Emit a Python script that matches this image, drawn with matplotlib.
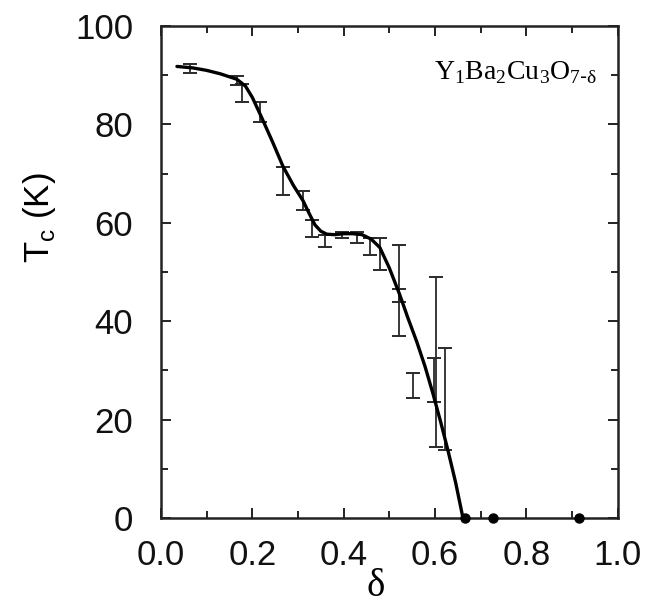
import matplotlib
matplotlib.use("Agg")
import matplotlib.pyplot as plt
from matplotlib.ticker import MultipleLocator
import numpy as np

# smooth guide curve through the Tc(delta) data
curve_delta = [0.035, 0.07, 0.10, 0.13, 0.166, 0.185, 0.20, 0.22, 0.245, 0.267,
               0.29, 0.311, 0.325, 0.337, 0.35, 0.363, 0.38, 0.40, 0.42, 0.44,
               0.46, 0.479, 0.50, 0.523, 0.54, 0.56, 0.578, 0.595, 0.612,
               0.628, 0.645, 0.661]
curve_tc = [91.8, 91.5, 91.0, 90.3, 89.2, 87.8, 85.5, 81.5, 76.3, 71.5,
            67.6, 64.5, 61.8, 59.6, 58.3, 57.7, 57.6, 57.8, 57.8, 57.6,
            56.7, 55.0, 50.8, 45.3, 40.8, 35.8, 30.8, 25.4, 19.6,
            13.8, 7.2, 0.0]

# measured Tc ranges (lower / upper end of each error bar)
bar_delta = [0.063, 0.166, 0.177, 0.217, 0.267, 0.311, 0.330, 0.359, 0.396,
             0.430, 0.457, 0.479, 0.521, 0.521, 0.552, 0.601, 0.598, 0.621]
bar_low = [90.4, 88.0, 84.6, 80.5, 65.7, 62.6, 57.1, 55.1, 57.0,
           56.0, 53.5, 50.4, 37.0, 44.0, 24.4, 14.4, 23.6, 13.8]
bar_high = [92.3, 89.8, 88.2, 84.5, 71.3, 66.5, 60.6, 57.5, 58.2,
            58.1, 57.0, 57.0, 55.5, 46.5, 29.5, 49.0, 32.5, 34.5]

# non-superconducting samples
zero_delta = [0.665, 0.727, 0.915]
zero_tc = [0, 0, 0]

fig = plt.figure(figsize=(6.49, 6.07), dpi=100)
ax = fig.add_axes([0.248, 0.1466, 0.704, 0.8104])

low = np.array(bar_low)
high = np.array(bar_high)
mid = (low + high) / 2
ax.errorbar(bar_delta, mid, yerr=[mid - low, high - mid], fmt="none",
            ecolor="#2a2a2a", elinewidth=1.3, capsize=5, capthick=1.4)

ax.plot(curve_delta, curve_tc, color="black", lw=2.4, solid_capstyle="round")
ax.plot(zero_delta, zero_tc, "o", color="black", ms=6.5, clip_on=False, zorder=5)

ax.set_xlim(0, 1.0)
ax.set_ylim(0, 100)
ax.xaxis.set_major_locator(MultipleLocator(0.2))
ax.xaxis.set_minor_locator(MultipleLocator(0.1))
ax.yaxis.set_major_locator(MultipleLocator(20))
ax.yaxis.set_minor_locator(MultipleLocator(10))
ax.set_xticks([0.0, 0.2, 0.4, 0.6, 0.8, 1.0])
ax.set_xticklabels(["0.0", "0.2", "0.4", "0.6", "0.8", "1.0"])

ax.tick_params(which="both", direction="in", top=True, right=True,
               width=1.4, colors="#222222")
ax.tick_params(which="major", length=7)
ax.tick_params(which="minor", length=5)
ax.tick_params(axis="y", which="major", pad=20, labelsize=25)
ax.tick_params(axis="x", which="major", pad=15, labelsize=25)
for lab in ax.get_xticklabels() + ax.get_yticklabels():
    lab.set_family("Liberation Sans")
    lab.set_color("#111111")

for sp in ax.spines.values():
    sp.set_linewidth(1.8)
    sp.set_color("#222222")

ax.set_ylabel(r"T$_\mathregular{c}$ (K)", fontsize=25, family="Liberation Sans")
ax.yaxis.set_label_coords(-0.225, 0.61)
ax.set_xlabel("δ", fontsize=28, family="Liberation Serif")
ax.xaxis.set_label_coords(0.47, -0.102)

ax.text(0.955, 0.905, r"Y$_\mathregular{1}$Ba$_\mathregular{2}$Cu$_\mathregular{3}$O$_\mathregular{7\text{-}δ}$",
        transform=ax.transAxes, ha="right", va="center",
        fontsize=20, family="Liberation Serif")

fig.savefig("out.png", dpi=100)
